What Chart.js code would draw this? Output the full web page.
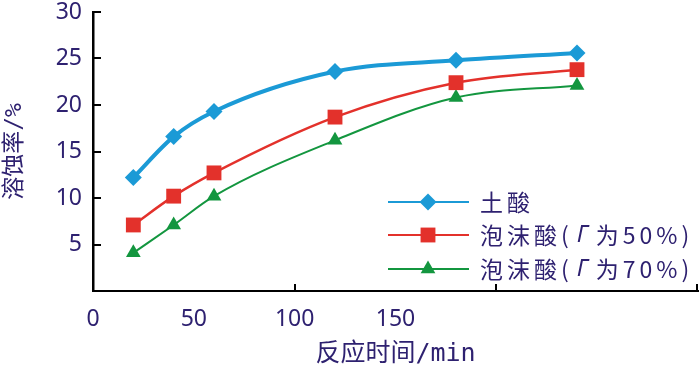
<!DOCTYPE html>
<html>
<head>
<meta charset="utf-8">
<script src="https://cdn.jsdelivr.net/npm/chart.js@4/dist/chart.umd.min.js"></script>
<style>
  html, body { margin: 0; background: #fff; }
</style>
</head>
<body>
<canvas id="chart" width="700" height="375"></canvas>
<script>
// reaction time (min) and dissolution rate (%)
const times = [20, 40, 60, 120, 180, 240];
const soilAcid = [12.2, 16.6, 19.3, 23.6, 24.8, 25.6];
const foam50 = [7.1, 10.2, 12.7, 18.7, 22.4, 23.8];
const foam70 = [4.1, 7.1, 10.2, 16.2, 20.8, 22.1];
const seriesNames = ["土酸", "泡沫酸(Γ为50%)", "泡沫酸(Γ为70%)"];
const xTickStep = 50;
const xLabelMax = 150;     // the figure only labels 0..150
const xMarks = [100, 200, 300];
const yMarks = [5, 10, 15, 20, 25, 30];

const ink = "#2e2170";
const colors = ["#1b9ad6", "#e3312b", "#13963f"];
const titleFont = "'DejaVu Sans Mono', 'Noto Sans CJK SC'";

const toPoints = vals => times.map((t, i) => ({ x: t, y: vals[i] }));

// inward tick marks like the original figure
const tickMarks = {
    id: "tickMarks",
    afterDraw(chart) {
        const { ctx, chartArea, scales } = chart;
        ctx.save();
        ctx.strokeStyle = "#000";
        ctx.lineWidth = 2;
        ctx.beginPath();
        for (const v of xMarks) {
            const px = Math.min(Math.round(scales.x.getPixelForValue(v)), chartArea.right - 1);
            ctx.moveTo(px, chartArea.bottom);
            ctx.lineTo(px, chartArea.bottom - 7);
        }
        for (const v of yMarks) {
            const py = Math.round(scales.y.getPixelForValue(v));
            ctx.moveTo(chartArea.left, py);
            ctx.lineTo(chartArea.left + 8, py);
        }
        ctx.stroke();
        ctx.restore();
    }
};

// legend drawn inside the plot: line + marker + label
const insideLegend = {
    id: "insideLegend",
    afterDraw(chart) {
        const { ctx } = chart;
        const rows = [202, 235, 269];
        ctx.save();
        chart.data.datasets.forEach((ds, i) => {
            const y = rows[i];
            ctx.strokeStyle = ds.borderColor;
            ctx.lineWidth = 2;
            ctx.beginPath();
            ctx.moveTo(388, y);
            ctx.lineTo(469, y);
            ctx.stroke();
            ctx.fillStyle = ds.backgroundColor;
            Chart.helpers.drawPoint(ctx, {
                pointStyle: ds.pointStyle, radius: ds.pointRadius, rotation: 0, borderWidth: 0
            }, 428, y);

            ctx.fillStyle = ink;
            ctx.textBaseline = "middle";
            ctx.letterSpacing = "4px";
            let x = 480;
            const parts = ds.label.split("Γ");
            parts.forEach((part, j) => {
                ctx.font = "23px 'Noto Sans CJK SC'";
                ctx.fillText(part, x, y);
                x += ctx.measureText(part).width;
                if (j < parts.length - 1) {
                    ctx.font = "italic 23px 'Noto Sans'";
                    ctx.fillText("Γ", x + 4, y);
                    x += ctx.measureText("Γ").width + 8;
                }
            });
        });
        ctx.restore();
    }
};

function line(label, vals, color, width, style, radius) {
    return {
        label: label,
        data: toPoints(vals),
        borderColor: color,
        backgroundColor: color,
        borderWidth: width,
        pointStyle: style,
        pointRadius: radius,
        pointHoverRadius: radius,
        pointBorderWidth: 0,
        pointBackgroundColor: color,
        cubicInterpolationMode: "monotone",
        fill: false
    };
}

new Chart(document.getElementById("chart"), {
    type: "line",
    data: {
        datasets: [
            line(seriesNames[0], soilAcid, colors[0], 4, "rectRot", 8.5),
            line(seriesNames[1], foam50, colors[1], 2.5, "rect", 10.5),
            line(seriesNames[2], foam70, colors[2], 2, "triangle", 8.5),
        ],
    },
    plugins: [tickMarks, insideLegend],
    options: {
        responsive: false,
        animation: false,
        layout: { autoPadding: false, padding: { top: 12, right: 2, left: 0, bottom: 0 } },
        plugins: {
            legend: { display: false },
            tooltip: { enabled: false },
        },
        scales: {
            x: {
                type: "linear",
                min: 0,
                max: 300,
                afterFit: s => {
                    s.height = 84;
                    s.paddingLeft = 0;
                    s.paddingRight = 0;
                },
                grid: { display: true, drawOnChartArea: false, drawTicks: false },
                border: { display: true, color: "#000", width: 2 },
                ticks: {
                    stepSize: xTickStep,
                    padding: 15,
                    color: ink,
                    font: { family: "'Noto Sans'", size: 23 },
                    maxRotation: 0,
                    callback: v => (v <= xLabelMax ? v : ""),
                },
                title: {
                    display: true,
                    text: "反应时间/min",
                    color: ink,
                    font: { family: titleFont, size: 25 },
                    padding: { top: 0, bottom: 6 },
                },
            },
            y: {
                min: 0,
                max: 30,
                afterFit: s => {
                    s.width = 93;
                    s.paddingTop = 0;
                    s.paddingBottom = 0;
                },
                grid: { display: true, drawOnChartArea: false, drawTicks: false },
                border: { display: true, color: "#000", width: 2.5 },
                ticks: {
                    stepSize: 5,
                    padding: 11,
                    color: ink,
                    font: { family: "'Noto Sans'", size: 23 },
                    callback: v => (v === 0 ? "" : v),
                },
                title: {
                    display: true,
                    text: "溶蚀率/%",
                    color: ink,
                    font: { family: titleFont, size: 23 },
                    padding: { top: 1, bottom: 0 },
                },
            },
        },
    },
});
</script>
</body>
</html>
